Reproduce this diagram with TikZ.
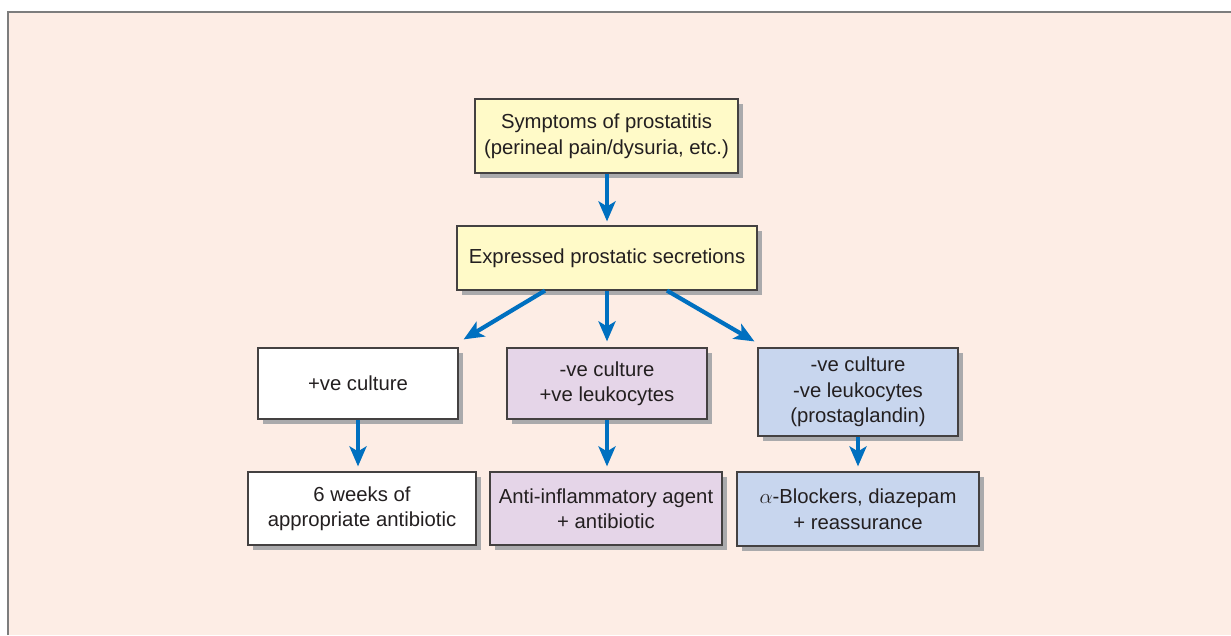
\documentclass[tikz,border=0pt]{standalone}
\usepackage{fontspec}
\setmainfont{Liberation Sans}
\usetikzlibrary{arrows.meta,shadows,calc}
\definecolor{panel}{RGB}{253,237,229}
\definecolor{panelline}{RGB}{125,125,125}
\definecolor{yellowbox}{RGB}{255,250,200}
\definecolor{purplebox}{RGB}{229,213,232}
\definecolor{bluebox}{RGB}{200,214,238}
\definecolor{arrowblue}{RGB}{0,112,192}
\definecolor{txt}{RGB}{35,31,32}
\definecolor{shade}{RGB}{170,170,172}
\tikzset{
  x=1pt, y=-1pt,
  box/.style={draw=txt!85, line width=1.2pt, text=txt, align=center, inner sep=0pt,
    font=\fontsize{20.3}{25.5}\selectfont,
    drop shadow={shadow xshift=5pt, shadow yshift=-5pt, fill=shade, opacity=1}},
  flow/.style={draw=arrowblue, line width=4.2pt,
    -{Stealth[length=20pt,width=17pt,inset=5pt]}},
}
\begin{document}
\begin{tikzpicture}
\useasboundingbox (0,0) rectangle (1231,635);
\fill[panel] (8,12) rectangle (1231,635);
\draw[panelline, line width=2pt] (8,635) -- (8,12) -- (1231,12);

\node[box, fill=yellowbox, minimum width=263pt, minimum height=74pt] (top) at (606.5,136)
  {Symptoms of prostatitis\\(perineal pain/dysuria, etc.)};
\node[box, fill=yellowbox, minimum width=300pt, minimum height=64pt] (eps) at (607,258)
  {Expressed prostatic secretions};
\node[box, fill=white, minimum width=200pt, minimum height=71pt] (pos) at (358,383.5)
  {+ve culture};
\node[box, fill=purplebox, minimum width=200pt, minimum height=71pt] (negpos) at (607,383.5)
  {-ve culture\\+ve leukocytes};
\node[box, fill=bluebox, minimum width=200pt, minimum height=88pt] (negneg) at (858,392)
  {-ve culture\\-ve leukocytes\\(prostaglandin)};
\node[box, fill=white, minimum width=228pt, minimum height=73pt] (abx) at (362,508.5)
  {6 weeks of\\appropriate antibiotic};
\node[box, fill=purplebox, minimum width=232pt, minimum height=73pt] (antiinf) at (606,508.5)
  {Anti-inflammatory agent\\+ antibiotic};
\node[box, fill=bluebox, minimum width=242pt, minimum height=74pt] (alpha) at (858,509)
  {$\alpha$-Blockers, diazepam\\+ reassurance};

\draw[flow, shorten >=4pt] (top.south -| eps.south) -- (eps.north);
\draw[flow] ($(eps.south)+(-62,0)$) -- ($(pos.north east)+(5,-8)$);
\draw[flow, shorten >=6pt] (eps.south) -- (negpos.north);
\draw[flow] ($(eps.south)+(60,0)$) -- ($(negneg.north west)+(-3,-6)$);
\draw[flow, shorten >=5pt] (pos.south) -- (pos.south |- abx.north);
\draw[flow, shorten >=5pt] (negpos.south) -- (negpos.south |- antiinf.north);
\draw[flow, shorten >=5pt] (negneg.south) -- (negneg.south |- alpha.north);
\end{tikzpicture}
\end{document}
